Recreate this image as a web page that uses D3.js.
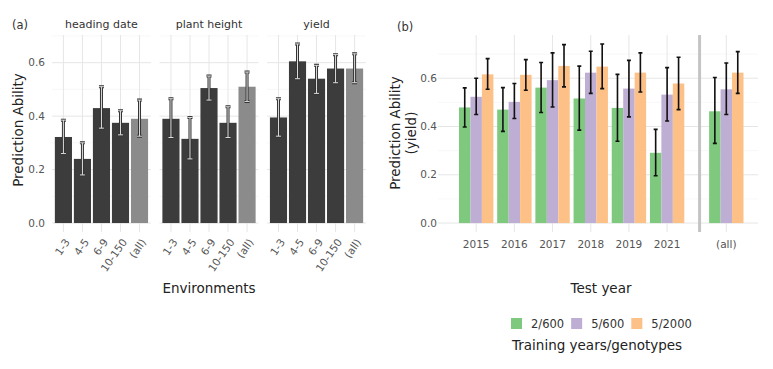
<!DOCTYPE html>
<html lang="en">
<head>
<meta charset="UTF-8">
<title>Prediction ability</title>
<style>
  body { margin: 0; background: #fff; }
  text { font-family: "DejaVu Sans", sans-serif; }
</style>
</head>
<body>
<svg width="773" height="369"></svg>
<script src="https://cdn.jsdelivr.net/npm/d3@7"></script>
<script>
// ---- data, panel (a)
var traits = ["heading date", "plant height", "yield"];
var envGroups = ["1-3", "4-5", "6-9", "10-150", "(all)"];
// mean, lower, upper per trait, in envGroups order
var aMean = [
  [0.322, 0.240, 0.430, 0.375, 0.390],
  [0.390, 0.315, 0.505, 0.375, 0.510],
  [0.395, 0.605, 0.540, 0.578, 0.578]
];
var aLow = [
  [0.260, 0.180, 0.355, 0.330, 0.325],
  [0.320, 0.240, 0.460, 0.320, 0.455],
  [0.325, 0.540, 0.485, 0.525, 0.525]
];
var aHigh = [
  [0.385, 0.300, 0.510, 0.420, 0.460],
  [0.465, 0.395, 0.550, 0.435, 0.565],
  [0.465, 0.670, 0.590, 0.630, 0.633]
];

// ---- data, panel (b)
var testYears = ["2015", "2016", "2017", "2018", "2019", "2021", "(all)"];
var yearPos = [1, 2, 3, 4, 5, 6, 7.55];
var separatorPos = 6.85;
var trainSets = ["2/600", "5/600", "5/2000"];
var trainColors = ["#7fc97f", "#beaed4", "#fdc086"];
var bMean = [
  [0.479, 0.470, 0.561, 0.516, 0.477, 0.291, 0.463],
  [0.523, 0.502, 0.592, 0.623, 0.557, 0.532, 0.554],
  [0.616, 0.614, 0.651, 0.648, 0.623, 0.578, 0.623]
];
var bLow = [
  [0.398, 0.380, 0.458, 0.385, 0.339, 0.196, 0.330],
  [0.450, 0.433, 0.481, 0.537, 0.440, 0.423, 0.450],
  [0.554, 0.550, 0.564, 0.557, 0.543, 0.470, 0.537]
];
var bHigh = [
  [0.560, 0.561, 0.665, 0.650, 0.616, 0.388, 0.603],
  [0.600, 0.578, 0.705, 0.712, 0.674, 0.644, 0.663],
  [0.681, 0.677, 0.739, 0.742, 0.705, 0.687, 0.710]
];

var svg = d3.select("svg");
var gridMajor = "#e6e6e6", gridMinor = "#f2f2f2", tickCol = "#555";

// ================= panel (a)
var yA = d3.scaleLinear().domain([-0.0335, 0.7035]).range([232, 35]);
var facetX0 = d3.scaleBand().domain(traits).range([52, 366]).paddingInner(0.08);

svg.append("text").attr("x", 12).attr("y", 29).style("font-size", "11.5px").attr("fill", "#333").text("(a)");

// y tick labels
svg.append("g").selectAll("text").data([0, 0.2, 0.4, 0.6]).enter().append("text")
  .attr("x", 45).attr("y", d => yA(d)).attr("dy", "0.35em").attr("text-anchor", "end")
  .style("font-size", "10.5px").attr("fill", tickCol).text(d => d.toFixed(1));

svg.append("text").attr("transform", "translate(23,130) rotate(-90)")
  .attr("text-anchor", "middle").style("font-size", "13.5px").attr("fill", "#222")
  .text("Prediction Ability");

traits.forEach(function(t, i) {
  var x0 = facetX0(t), w = facetX0.bandwidth();
  var g = svg.append("g");
  var xb = d3.scaleBand().domain(envGroups).range([x0, x0 + w]).paddingInner(0.1).paddingOuter(0.15);

  g.selectAll(".minor").data([0.1, 0.3, 0.5, 0.7]).enter().append("line")
    .attr("x1", x0).attr("x2", x0 + w).attr("y1", d => yA(d)).attr("y2", d => yA(d))
    .attr("stroke", gridMinor).attr("stroke-width", 0.6);
  g.selectAll(".major").data([0, 0.2, 0.4, 0.6]).enter().append("line")
    .attr("x1", x0).attr("x2", x0 + w).attr("y1", d => yA(d)).attr("y2", d => yA(d))
    .attr("stroke", gridMajor).attr("stroke-width", 1);
  g.selectAll(".vgrid").data(envGroups).enter().append("line")
    .attr("x1", d => xb(d) + xb.bandwidth() / 2).attr("x2", d => xb(d) + xb.bandwidth() / 2)
    .attr("y1", 35).attr("y2", 232).attr("stroke", gridMajor).attr("stroke-width", 1);

  // strip label
  g.append("text").attr("x", x0 + w / 2).attr("y", 28).attr("text-anchor", "middle")
    .style("font-size", "11px").attr("fill", "#333").text(t);

  var rows = envGroups.map((e, j) => ({ e: e, m: aMean[i][j], lo: aLow[i][j], hi: aHigh[i][j] }));

  g.selectAll("rect").data(rows).enter().append("rect")
    .attr("x", d => xb(d.e)).attr("width", xb.bandwidth())
    .attr("y", d => yA(d.m)).attr("height", d => yA(0) - yA(d.m))
    .attr("fill", d => d.e === "(all)" ? "#8b8b8b" : "#3c3c3c");

  // error bars: dark outline with light core
  [["#333", 3], ["#dcdcdc", 1]].forEach(function(st) {
    var eb = g.append("g").attr("stroke", st[0]).attr("stroke-width", st[1]);
    rows.forEach(function(d) {
      var cx = xb(d.e) + xb.bandwidth() / 2;
      eb.append("path").attr("fill", "none")
        .attr("d", `M${cx - 2.5},${yA(d.hi)}H${cx + 2.5}M${cx},${yA(d.hi)}V${yA(d.lo)}M${cx - 2.5},${yA(d.lo)}H${cx + 2.5}`);
    });
  });

  // rotated x labels
  g.selectAll(".xl").data(envGroups).enter().append("text")
    .attr("transform", d => `translate(${xb(d) + xb.bandwidth() / 2 + 4},240) rotate(-55)`)
    .attr("text-anchor", "end").attr("dy", "0.35em")
    .style("font-size", "10.5px").attr("fill", tickCol).text(d => d);
});

svg.append("text").attr("x", 209).attr("y", 293).attr("text-anchor", "middle")
  .style("font-size", "13.5px").attr("fill", "#222").text("Environments");

// ================= panel (b)
var xB = d3.scaleLinear().domain([0.0, 8.38]).range([438, 758]);
var yB = d3.scaleLinear().domain([-0.037, 0.779]).range([232, 35]);
var gb = svg.append("g");

svg.append("text").attr("x", 397).attr("y", 31).style("font-size", "11.5px").attr("fill", "#333").text("(b)");

gb.selectAll(".minor").data([0.1, 0.3, 0.5, 0.7]).enter().append("line")
  .attr("x1", 438).attr("x2", 758).attr("y1", d => yB(d)).attr("y2", d => yB(d))
  .attr("stroke", gridMinor).attr("stroke-width", 0.6);
gb.selectAll(".major").data([0, 0.2, 0.4, 0.6]).enter().append("line")
  .attr("x1", 438).attr("x2", 758).attr("y1", d => yB(d)).attr("y2", d => yB(d))
  .attr("stroke", gridMajor).attr("stroke-width", 1);
gb.selectAll(".vgrid").data(yearPos).enter().append("line")
  .attr("x1", d => xB(d)).attr("x2", d => xB(d)).attr("y1", 35).attr("y2", 232)
  .attr("stroke", gridMajor).attr("stroke-width", 1);

gb.append("line").attr("x1", xB(separatorPos)).attr("x2", xB(separatorPos))
  .attr("y1", 35).attr("y2", 232).attr("stroke", "#c4c4c4").attr("stroke-width", 3);

var dodge = 0.9, barW = dodge / trainSets.length;
var bRows = [];
trainSets.forEach(function(s, k) {
  testYears.forEach(function(y, j) {
    bRows.push({ k: k, pos: yearPos[j] - dodge / 2 + barW * k, m: bMean[k][j], lo: bLow[k][j], hi: bHigh[k][j] });
  });
});

gb.selectAll("rect").data(bRows).enter().append("rect")
  .attr("x", d => xB(d.pos)).attr("width", xB(barW) - xB(0))
  .attr("y", d => yB(d.m)).attr("height", d => yB(0) - yB(d.m))
  .attr("fill", d => trainColors[d.k]);

gb.selectAll(".err").data(bRows).enter().append("path")
  .attr("fill", "none").attr("stroke", "#111").attr("stroke-width", 1.6)
  .attr("d", function(d) {
    var cx = xB(d.pos + barW / 2);
    return `M${cx - 2},${yB(d.hi)}H${cx + 2}M${cx},${yB(d.hi)}V${yB(d.lo)}M${cx - 2},${yB(d.lo)}H${cx + 2}`;
  });

gb.selectAll(".yt").data([0, 0.2, 0.4, 0.6]).enter().append("text")
  .attr("x", 437).attr("y", d => yB(d)).attr("dy", "0.35em").attr("text-anchor", "end")
  .style("font-size", "10.5px").attr("fill", tickCol).text(d => d.toFixed(1));

gb.selectAll(".xt").data(testYears).enter().append("text")
  .attr("x", (d, j) => xB(yearPos[j])).attr("y", 248).attr("text-anchor", "middle")
  .style("font-size", "10.5px").attr("fill", tickCol).text(d => d);

var yt = svg.append("text").attr("transform", "translate(403,133) rotate(-90)")
  .attr("text-anchor", "middle").style("font-size", "13.5px").attr("fill", "#222");
yt.append("tspan").attr("x", 0).attr("dy", "-0.25em").text("Prediction Ability");
yt.append("tspan").attr("x", 0).attr("dy", "1.2em").text("(yield)");

svg.append("text").attr("x", 601).attr("y", 293).attr("text-anchor", "middle")
  .style("font-size", "13.5px").attr("fill", "#222").text("Test year");

// legend
var leg = svg.append("g").attr("transform", "translate(511,318)");
var lx = 0;
trainSets.forEach(function(s, k) {
  leg.append("rect").attr("x", lx).attr("y", 0).attr("width", 11).attr("height", 11).attr("fill", trainColors[k]);
  var t = leg.append("text").attr("x", lx + 20).attr("y", 10).style("font-size", "11.5px").attr("fill", "#333").text(s);
  lx += 20 + t.node().getComputedTextLength() + 7;
});
leg.append("text").attr("x", 1).attr("y", 32).style("font-size", "13.5px").attr("fill", "#222")
  .text("Training years/genotypes");
</script>
</body>
</html>
